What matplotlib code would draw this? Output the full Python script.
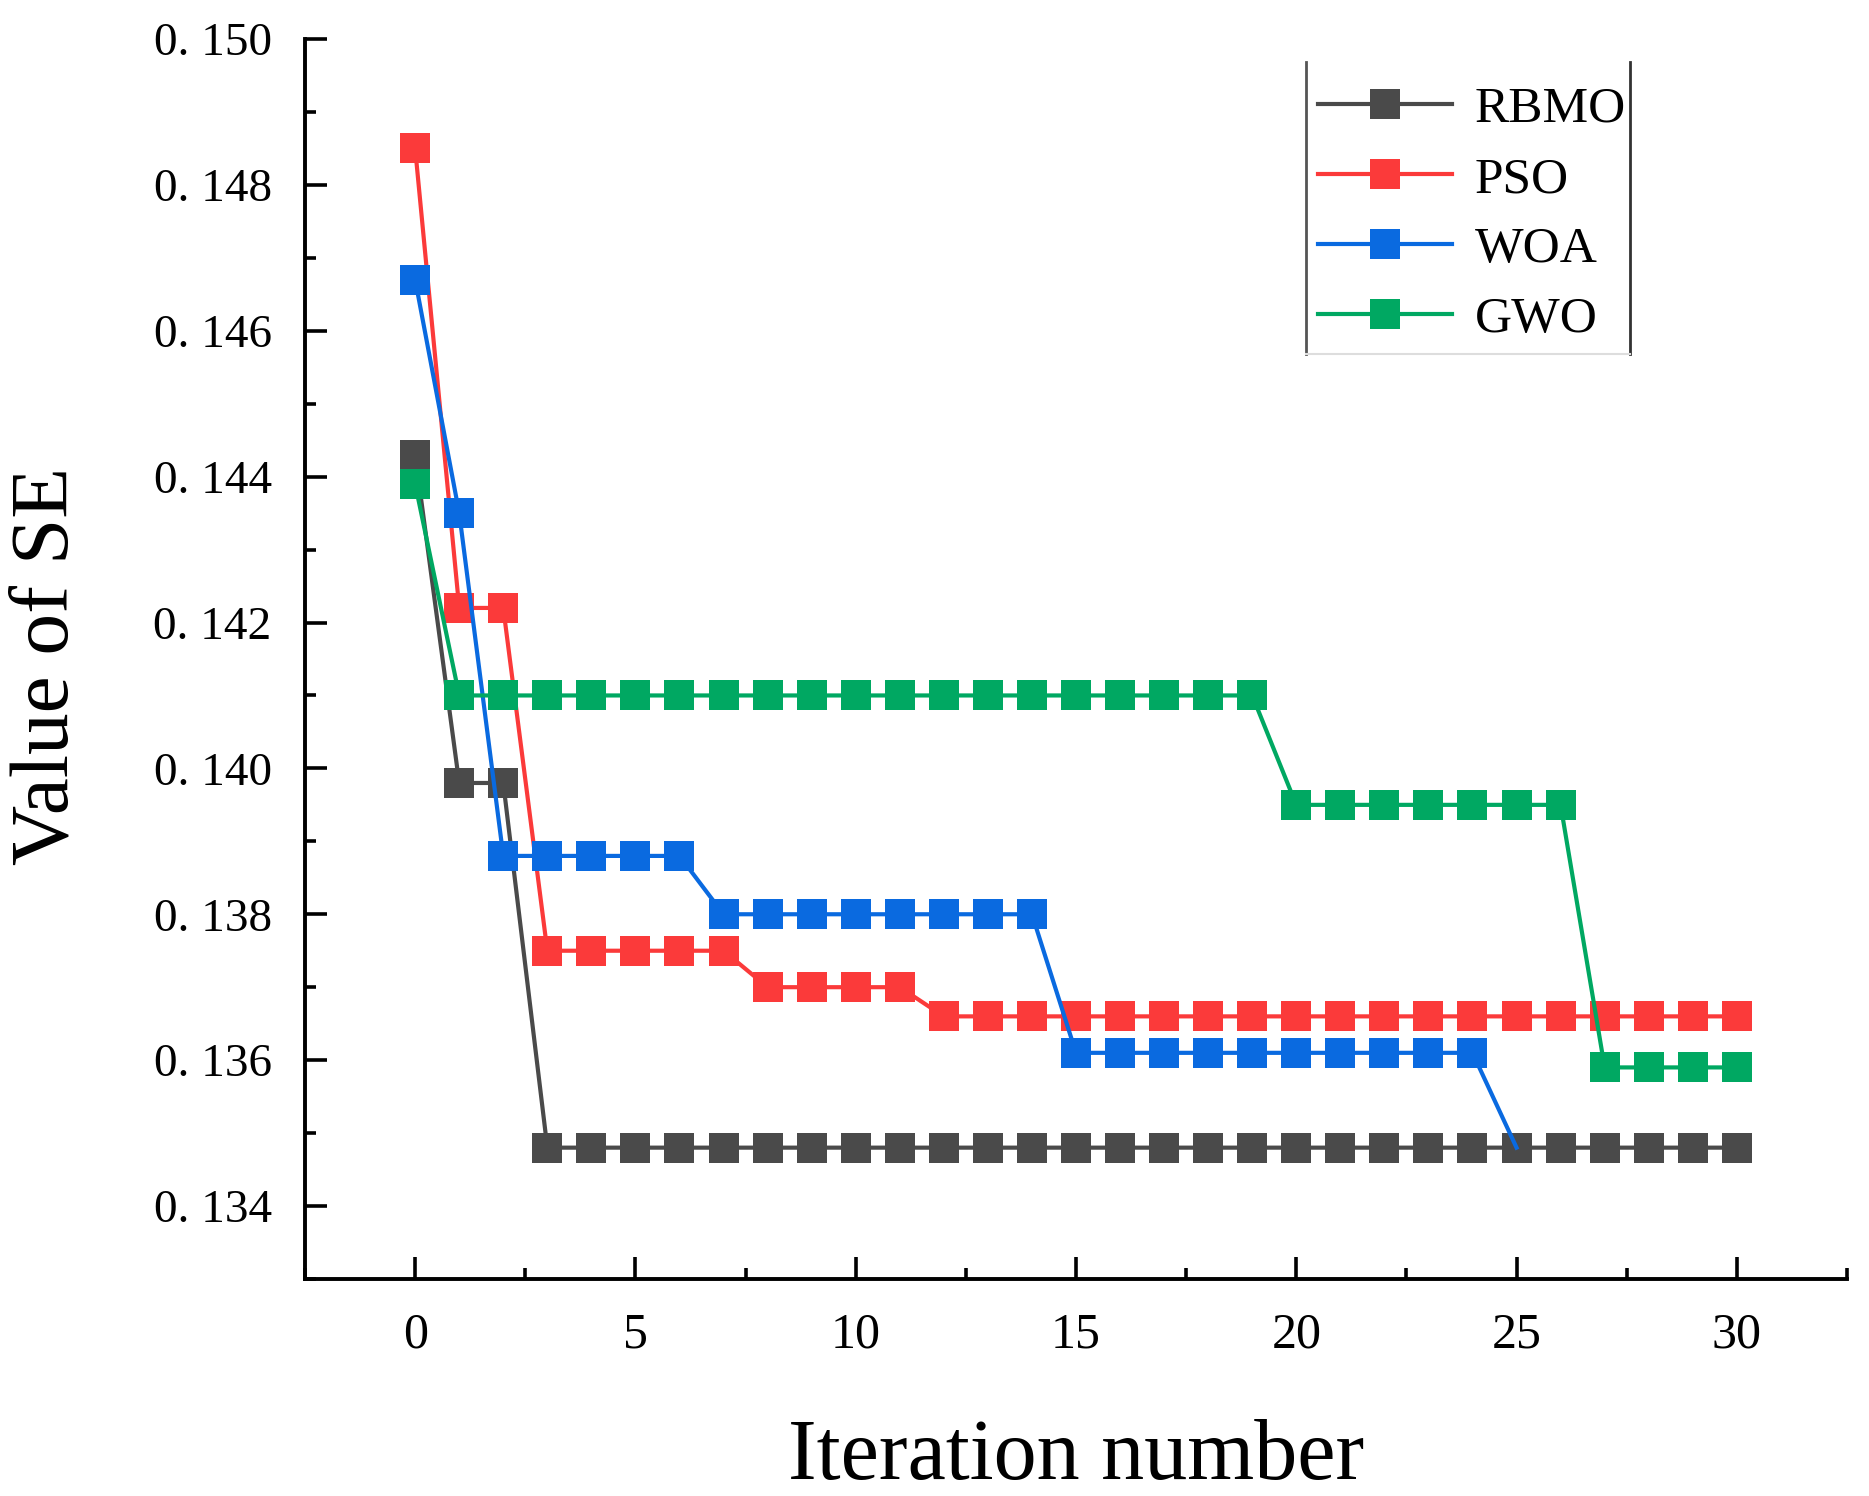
import matplotlib
matplotlib.use("Agg")
import matplotlib.pyplot as plt
from matplotlib.ticker import MultipleLocator, FuncFormatter
from matplotlib.lines import Line2D

iterations = list(range(31))
rbmo = [0.1443, 0.1398, 0.1398] + [0.1348] * 28
pso = [0.1485, 0.1422, 0.1422] + [0.1375] * 5 + [0.1370] * 4 + [0.1366] * 19
woa = [0.1467, 0.1435] + [0.1388] * 5 + [0.1380] * 8 + [0.1361] * 10 + [0.1348]
gwo = [0.1439] + [0.1410] * 19 + [0.1395] * 7 + [0.1359] * 4

names = ["RBMO", "PSO", "WOA", "GWO"]
colors = ["#4a4a4a", "#fb3a3a", "#0a6ae0", "#00a862"]

plt.rcParams['font.family'] = ['Liberation Serif', 'DejaVu Serif']

fig = plt.figure(figsize=(18.69, 14.96), dpi=100)
ax = fig.add_axes([0.1632, 0.1451, 0.9882 - 0.1632, 0.9739 - 0.1451])

series = [rbmo, pso, woa, gwo]
zs = [2, 3, 4, 5]
for name, vals, c, z in zip(names, series, colors, zs):
    xs = iterations[:len(vals)]
    me = list(range(len(vals) - 1)) if name == "WOA" else None
    ax.plot(xs, vals, color=c, lw=3.0, marker='s', markersize=21,
            markeredgewidth=0, label=name, zorder=z, markevery=me)

ax.set_xlim(-2.5, 32.5)
ax.set_ylim(0.133, 0.150)
ax.xaxis.set_major_locator(MultipleLocator(5))
ax.xaxis.set_minor_locator(MultipleLocator(2.5))
ax.yaxis.set_major_locator(MultipleLocator(0.002))
ax.yaxis.set_minor_locator(MultipleLocator(0.001))
ax.yaxis.set_major_formatter(FuncFormatter(lambda v, p: "0. " + f"{v:.3f}"[2:]))

for s in ["top", "right"]:
    ax.spines[s].set_visible(False)
for s in ["left", "bottom"]:
    ax.spines[s].set_linewidth(2.8)

ax.tick_params(axis='both', which='major', direction='in', length=16, width=2.6)
ax.tick_params(axis='both', which='minor', direction='in', length=8, width=2.6)
ax.tick_params(axis='x', which='major', labelsize=36, pad=24)
ax.tick_params(axis='y', which='major', labelsize=34, pad=24)

ax.set_xlabel("Iteration number", fontsize=62)
ax.xaxis.set_label_coords(0.50, -0.145)
ax.xaxis.label.set_va('center')
ax.set_ylabel("Value of SE", fontsize=60)
ax.yaxis.set_label_coords(-0.167, 0.494)
ax.yaxis.label.set_va('center')

leg = ax.legend(loc='upper left', bbox_to_anchor=(1318 / 1869, 1 - 86 / 1496),
                bbox_transform=fig.transFigure, fontsize=37, frameon=False,
                handlelength=2.6, handletextpad=0.45, labelspacing=0.45,
                borderpad=0.0, borderaxespad=0, numpoints=1)

fig.canvas.draw()
r = fig.canvas.get_renderer()
inv = fig.transFigure.inverted()
bb = leg.get_window_extent(r)
tx1 = max(t.get_window_extent(r).x1 for t in leg.get_texts())
x0 = bb.x0 - 12
x1 = tx1 + 4
y0 = bb.y0 - 11
y1 = bb.y1 + 24
(fx0, fy0), (fx1, fy1) = inv.transform([(x0, y0), (x1, y1)])
fig.add_artist(Line2D([fx0, fx0], [fy0, fy1], transform=fig.transFigure,
                      color='#555555', lw=2.0))
fig.add_artist(Line2D([fx1, fx1], [fy0, fy1], transform=fig.transFigure,
                      color='#333333', lw=2.0))
fig.add_artist(Line2D([fx0, fx1], [fy0, fy0], transform=fig.transFigure,
                      color='#dddddd', lw=1.5))

fig.savefig("out.png", dpi=100)
